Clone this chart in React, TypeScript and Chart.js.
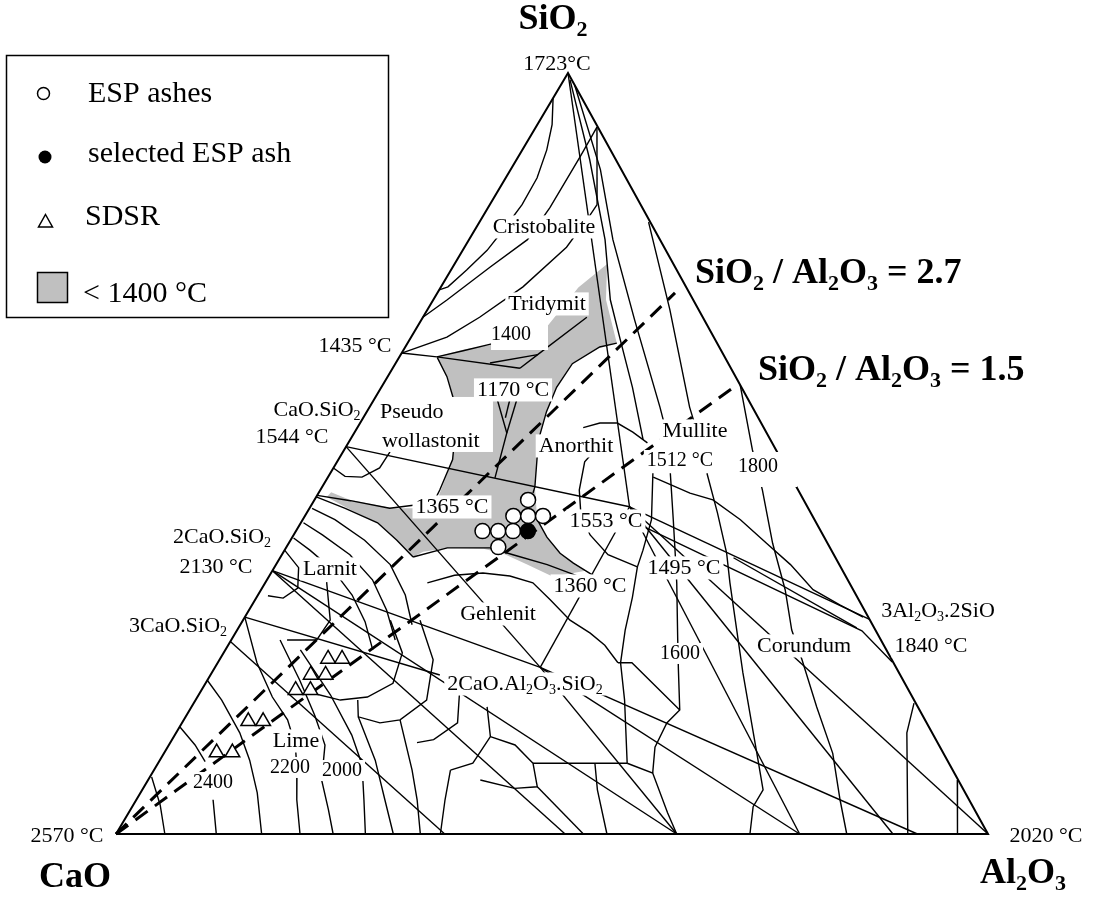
import React, { useEffect, useRef } from "react";
import { Chart, registerables } from "chart.js";

Chart.register(...registerables);

// Compositions are [SiO2 wt%, Al2O3 wt%]; CaO = 100 - SiO2 - Al2O3
type Comp = [number, number];

// ---------- data ----------
const triangleEdges: Comp[] = [[0, 0], [0, 100], [100, 0], [0, 0]];

const ratioLine27: Comp[] = [[0, 0], [71.1, 27.25]];
const ratioLine15: Comp[] = [[0, 0], [59.0, 40.6]];

const espAshes: Comp[] = [
  [43.9, 24.5], [41.8, 23.9], [41.8, 25.6], [41.8, 27.3],
  [39.8, 21.4], [39.8, 23.2], [39.8, 24.9], [37.7, 24.3],
];
const selectedAsh: Comp[] = [[39.8, 26.6]];
const sdsrSamples: Comp[] = [
  [23.0, 12.4], [23.0, 14.0], [20.9, 11.5], [20.9, 13.2], [18.9, 10.8],
  [18.9, 12.5], [14.8, 7.5], [14.8, 9.2], [10.7, 6.0], [10.7, 7.8],
];

const lowMeltRegion: Comp[] = [
  [62.7, 4.3], [63.7, 7.0], [64.3, 9.8], [65.6, 12.3], [66.9, 14.9], [71.8, 15.8],
  [74.9, 17.5], [70.2, 19.8], [64.5, 24.0], [64.0, 22.3], [61.8, 20.3], [58.7, 20.1],
  [55.5, 20.6], [51.8, 21.6], [45.6, 24.4], [41.3, 26.9], [39.0, 29.2], [36.9, 31.8],
  [35.6, 34.0], [34.6, 35.9], [33.8, 32.6], [35.4, 28.8], [36.9, 25.2], [37.5, 22.7],
  [37.6, 18.8], [37.1, 16.0], [36.4, 15.2], [38.6, 12.2], [40.9, 8.8], [42.6, 4.8],
  [44.3, 1.2], [44.9, 1.4], [43.9, 4.1], [42.8, 9.6], [42.8, 13.8], [44.3, 14.0],
  [49.2, 13.1], [53.1, 11.4], [57.0, 9.2], [59.9, 7.0],
];

const tieLines: Comp[][] = [
  [[100, 0], [43.0, 36.6]],
  [[50.9, 0], [43.0, 36.6]],
  [[50.9, 0], [21.9, 37.3]],
  [[34.6, 0], [21.9, 37.3]],
  [[21.9, 37.3], [43.0, 36.6]],
  [[43.0, 36.6], [28.2, 71.8]],
  [[43.0, 36.6], [0, 100]],
  [[43.0, 36.6], [0, 78.4]],
  [[43.0, 36.6], [0, 89.1]],
  [[34.6, 0], [0, 64.3]],
  [[21.9, 37.3], [0, 64.3]],
  [[21.9, 37.3], [0, 78.4]],
  [[21.9, 37.3], [0, 91.9]],
  [[25.3, 0], [0, 37.7]],
  [[28.5, 0], [20.9, 26.3]],
  [[34.6, 0], [0, 51.5]],
];

const silicaFieldCurves: Comp[][] = [
  [[96.7, 0], [93.2, 1.7], [89.9, 2.8], [86.2, 3.6], [82.7, 3.7], [79.6, 3.3], [76.7, 2.8], [74.1, 1.8], [71.9, 0.8], [71.5, 0]],
  [[67.9, 0], [70.2, 1.6], [74.5, 4.3], [78.1, 6.7], [82.3, 7.1], [89.0, 7.1], [92.9, 7.0]],
  [[63.2, 0], [65.3, 4.1], [67.9, 6.5], [71.9, 9.4], [77.1, 11.7], [81.3, 12.2], [82.7, 12.3]],
  [[92.9, 7.0], [82.7, 12.3]],
  [[99.1, 0.7], [88.6, 8.4], [78.1, 15.6], [70.2, 20.3], [64.9, 24.2], [58.7, 28.8], [51.8, 33.6]],
  [[98.4, 1.6], [87.3, 10.3], [78.1, 16.5], [67.5, 24.5], [56.1, 33.3], [51.8, 36.5]],
  [[80.4, 19.4], [68.9, 27.8], [56.1, 36.7], [53.8, 38.5]],
];

const phaseBoundaries: Comp[][] = [
  [[63.2, 0], [62.7, 4.3], [61.2, 14.6]],
  [[61.2, 14.6], [63.0, 15.7], [67.9, 18.8]],
  [[61.9, 10.8], [63.0, 15.7]],
  [[62.7, 4.3], [63.5, 6.9], [64.4, 9.7]],
  [[62.6, 4.4], [60.1, 6.8], [57.0, 9.2], [53.1, 11.4], [49.2, 13.1], [45.2, 13.7], [42.6, 13.9]],
  [[64.5, 24.0], [64.0, 22.3], [61.8, 20.3], [58.7, 20.1], [55.5, 20.6], [51.8, 21.6], [45.6, 24.4], [44.8, 24.6]],
  [[41.3, 26.9], [39.0, 29.2], [36.9, 31.8], [35.6, 34.0], [34.6, 35.9], [33.0, 39.0]],
  [[36.4, 15.2], [37.6, 18.5], [37.6, 23.4], [36.7, 26.5], [35.4, 31.1], [33.8, 35.7]],
  [[44.3, 0], [42.8, 4.1], [40.9, 8.8], [38.6, 12.2], [36.4, 15.2]],
  [[44.5, 0], [43.8, 4.2], [42.8, 9.2], [43.2, 11.7]],
  [[57.0, 14.2], [52.7, 17.5], [46.8, 19.2]],
  [[57.0, 16.4], [52.7, 17.5]],
  [[57.0, 15.6], [54.7, 16.3]],
  [[53.4, 25.9], [54.0, 27.5], [54.0, 29.5], [52.8, 31.9], [51.4, 34.3]],
  [[50.5, 28.8], [48.9, 28.4], [45.2, 29.7], [41.9, 31.6], [39.3, 34.0], [36.7, 37.4], [35.1, 41.6]],
  [[47.4, 37.0], [41.3, 40.0], [37.3, 41.1], [35.1, 41.6]],
  [[47.4, 39.0], [41.3, 42.5], [36.9, 45.0], [33.0, 47.2], [25.5, 51.2], [21.6, 53.3], [16.3, 56.2], [14.6, 55.6], [11.4, 55.9], [8.0, 57.4]],
  [[47.4, 43.2], [42.2, 47.1], [36.9, 50.9], [33.0, 53.3], [21.2, 60.9], [10.6, 68.0], [5.8, 71.2], [3.6, 71.2], [0, 72.7]],
  [[46.9, 37.3], [44.8, 42.6], [43.9, 45.7], [41.3, 50.2], [38.2, 54.8], [35.4, 59.0], [32.1, 63.3], [30.1, 67.4], [28.5, 70.9]],
  [[59.0, 41.0], [50.5, 46.8], [45.2, 50.7], [38.2, 55.5], [32.1, 60.1], [26.8, 63.6], [22.9, 66.8], [16.7, 71.7], [10.6, 76.7], [4.5, 80.7], [0, 83.8]],
  [[40.3, 39.8], [26.7, 71.7], [22.6, 77.3]],
  [[36.3, 52.0], [27.1, 70.9]],
  [[17.2, 82.6], [13.3, 83.8], [0, 90.8]],
  [[7.1, 92.8], [0, 96.5]],
  [[33.0, 18.6], [34.0, 21.2], [34.3, 24.3], [33.9, 27.6], [33.0, 30.7], [30.8, 33.8], [28.1, 37.5], [26.4, 40.7], [24.8, 43.2], [22.5, 45.9]],
  [[35.1, 41.6], [31.1, 43.1], [26.8, 44.5], [22.5, 46.2], [17.6, 49.2], [9.3, 53.8]],
  [[22.5, 45.9], [22.5, 47.5], [16.3, 56.2]],
  [[9.3, 43.0], [9.3, 53.8]],
  [[9.3, 53.8], [8.0, 57.4], [2.8, 61.8], [0, 64.3]],
  [[7.1, 38.1], [6.0, 42.6], [6.2, 45.1], [9.3, 43.0]],
  [[6.2, 45.1], [0, 53.6]],
  [[9.3, 50.1], [5.8, 52.2], [0, 56.3]],
  [[12.8, 36.3], [11.7, 39.7], [9.3, 43.0]],
];

const limeFieldCurves: Comp[][] = [
  [[42.8, 0.3], [41.3, 3.7], [38.6, 8.5], [35.4, 13.1], [31.4, 16.9], [27.5, 19.7]],
  [[40.9, 0.3], [39.3, 3.3], [36.7, 7.8], [33.4, 12.1], [29.4, 15.8], [25.5, 18.8]],
  [[38.9, 0.2], [37.3, 2.9], [34.7, 6.9], [31.4, 10.8], [27.9, 14.1], [24.2, 16.9]],
  [[48.1, 0], [47.0, 1.9], [46.9, 3.9], [48.1, 5.3], [50.2, 5.4]],
  [[37.3, 0], [35.0, 2.8], [32.3, 4.1], [31.0, 3.1], [31.3, 1.2]],
  [[33.1, 7.0], [28.1, 10.0], [25.5, 9.8], [25.5, 6.4]],
  [[28.1, 16.9], [23.8, 20.5], [19.8, 21.5], [18.0, 19.5], [17.6, 16.6], [18.5, 13.0]],
  [[28.1, 20.3], [22.9, 24.5], [17.6, 26.5], [15.0, 24.8], [14.6, 22.7], [15.4, 19.8], [17.6, 18.6]],
  [[18.5, 29.8], [14.6, 31.6], [12.4, 30.0], [12.0, 28.3]],
  [[16.7, 33.9], [12.8, 36.3], [9.3, 36.1], [8.4, 34.0]],
  [[7.5, 0.2], [3.8, 3.1], [0, 5.6]],
  [[14.1, 0], [11.7, 3.0], [9.5, 5.3]],
  [[4.5, 8.8], [0, 11.5]],
  [[20.2, 0], [17.6, 3.0], [13.3, 7.3], [9.7, 10.3], [5.4, 13.4], [0, 16.7]],
  [[28.5, 0], [22.5, 4.5], [18.0, 8.6], [15.0, 11.9], [11.7, 14.5], [8.4, 16.4], [4.5, 18.4], [0, 21.1]],
  [[25.5, 5.6], [20.2, 10.6], [15.6, 14.7], [11.7, 17.9], [7.1, 19.9], [3.2, 22.7], [0, 24.9]],
  [[24.2, 8.6], [18.3, 15.1], [13.0, 20.3], [9.1, 23.5], [4.5, 26.1], [0, 28.6]],
  [[15.4, 19.8], [9.7, 24.7], [4.5, 28.5], [0, 31.8]],
  [[15.0, 24.8], [8.4, 29.6], [4.5, 32.2], [0, 34.9]],
  [[8.4, 34.0], [4.5, 35.4], [0, 37.2]],
];

// Text annotations: anchor in axis units [x, y]
type Label = { t: string; at: [number, number]; size?: number; bold?: boolean; left?: boolean; box?: boolean };
const fieldLabels: Label[] = [
  { t: "Cristobalite", at: [49.08, 78.98], box: true },
  { t: "Tridymit", at: [49.43, 68.86], box: true },
  { t: "Anorthit", at: [52.75, 50.2], box: true },
  { t: "Mullite", at: [66.4, 52.17], box: true },
  { t: "Corundum", at: [78.9, 23.92], box: true },
  { t: "Gehlenit", at: [43.81, 28.12], box: true },
  { t: "Larnit", at: [24.54, 34.04], box: true },
  { t: "Lime", at: [20.64, 11.43], box: true },
  { t: "2CaO.Al_2O_3.SiO_2", at: [46.9, 18.92], box: true },
  { t: "3Al_2O_3.2SiO", at: [94.27, 28.52], box: true },
  { t: "Pseudo", at: [30.28, 54.67], left: true },
  { t: "wollastonit", at: [30.5, 50.86], left: true },
];
const temperatureLabels: Label[] = [
  { t: "1723°C", at: [50.57, 100.4] },
  { t: "1435 °C", at: [27.41, 63.34] },
  { t: "1544 °C", at: [20.18, 51.38] },
  { t: "2130 °C", at: [11.47, 34.3] },
  { t: "2570 °C", at: [-5.62, -1.05] },
  { t: "2020 °C", at: [106.65, -1.05] },
  { t: "1840 °C", at: [93.46, 23.92], box: true },
  { t: "1170 °C", at: [45.53, 57.56], box: true },
  { t: "1400", at: [45.3, 64.92], size: 20 },
  { t: "1365 °C", at: [38.53, 42.18], box: true },
  { t: "1553 °C", at: [56.19, 40.34], box: true },
  { t: "1360 °C", at: [54.36, 31.8], box: true },
  { t: "1495 °C", at: [65.14, 34.17], box: true },
  { t: "1512 °C", at: [64.68, 48.36], size: 20, box: true },
  { t: "1800", at: [73.62, 47.57], size: 20 },
  { t: "1600", at: [64.68, 23.0], size: 20, box: true },
  { t: "2400", at: [11.12, 6.04], size: 20, box: true },
  { t: "2200", at: [19.95, 8.02], size: 20, box: true },
  { t: "2000", at: [25.92, 7.62], size: 20, box: true },
];
const compoundLabels: Label[] = [
  { t: "CaO.SiO_2", at: [23.05, 54.93] },
  { t: "2CaO.SiO_2", at: [12.16, 38.24] },
  { t: "3CaO.SiO_2", at: [7.11, 26.54] },
];
const titleLabels: Label[] = [
  { t: "SiO_2", at: [50.12, 105.79], size: 36, bold: true },
  { t: "CaO", at: [-4.7, -6.96], size: 36, bold: true },
  { t: "Al_2O_3", at: [104.01, -6.44], size: 36, bold: true },
  { t: "SiO_2 / Al_2O_3 = 2.7", at: [66.4, 72.41], size: 36, bold: true, left: true },
  { t: "SiO_2 / Al_2O_3 = 1.5", at: [73.62, 59.66], size: 36, bold: true, left: true },
];
// white masks behind multi-line / edge-covering labels: [x0, y0, x1, y1] in axis units
const labelMasks: [number, number, number, number][] = [
  [30.05, 50.2, 43.23, 57.43],
  [70.76, 45.6, 78.1, 50.2],
  [43.01, 63.6, 49.54, 67.54],
];

const legendItems = ["ESP ashes", "selected ESP ash", "SDSR", "< 1400 °C"];

// ---------- helpers ----------
const K = 4.52 / 8.72;
const toXY = ([si, al]: Comp) => ({ x: al + si * K, y: si });
const X_MIN = -13.303, X_MAX = 112.156, Y_MIN = -8.541, Y_MAX = 109.593;
const FONT = '"Liberation Serif", "Times New Roman", serif';

function segs(text: string) {
  const out: { s: string; sub: boolean }[] = [];
  for (let i = 0; i < text.length; i++) {
    if (text[i] === "_" && i + 1 < text.length) {
      out.push({ s: text[i + 1], sub: true });
      i++;
    } else {
      const last = out[out.length - 1];
      if (last && !last.sub) last.s += text[i];
      else out.push({ s: text[i], sub: false });
    }
  }
  return out;
}

function richWidth(ctx: CanvasRenderingContext2D, text: string, size: number, bold: boolean) {
  let w = 0;
  for (const sg of segs(text)) {
    ctx.font = `${bold ? "bold " : ""}${sg.sub ? Math.round(size * 0.62) : size}px ${FONT}`;
    w += ctx.measureText(sg.s).width;
  }
  return w;
}

function drawRich(ctx: CanvasRenderingContext2D, text: string, x: number, y: number, size: number, bold: boolean) {
  let cx = x;
  ctx.textBaseline = "alphabetic";
  ctx.textAlign = "left";
  for (const sg of segs(text)) {
    ctx.font = `${bold ? "bold " : ""}${sg.sub ? Math.round(size * 0.62) : size}px ${FONT}`;
    ctx.fillText(sg.s, cx, sg.sub ? y + size * 0.2 : y);
    cx += ctx.measureText(sg.s).width;
  }
}

function drawAnnotations(chart: any) {
  const ctx: CanvasRenderingContext2D = chart.ctx;
  const xs = chart.scales.x, ys = chart.scales.y;
  ctx.save();
  ctx.fillStyle = "#fff";
  for (const m of labelMasks) {
    const x0 = xs.getPixelForValue(m[0]), x1 = xs.getPixelForValue(m[2]);
    const y0 = ys.getPixelForValue(m[1]), y1 = ys.getPixelForValue(m[3]);
    ctx.fillRect(x0, y1, x1 - x0, y0 - y1);
  }
  const all = [...fieldLabels, ...temperatureLabels, ...compoundLabels, ...titleLabels];
  const placed = all.map((l) => {
    const size = l.size ?? 22;
    const bold = !!l.bold;
    const w = richWidth(ctx, l.t, size, bold);
    const px = xs.getPixelForValue(l.at[0]);
    const py = ys.getPixelForValue(l.at[1]);
    const x = l.left ? px : px - w / 2;
    return { l, size, bold, w, x, y: py };
  });
  ctx.fillStyle = "#fff";
  for (const p of placed) {
    if (!p.l.box) continue;
    ctx.fillRect(p.x - 3, p.y - p.size * 0.8, p.w + 6, p.size * 1.05);
  }
  ctx.fillStyle = "#000";
  for (const p of placed) drawRich(ctx, p.l.t, p.x, p.y, p.size, p.bold);
  ctx.restore();
}

function drawLegend(chart: any) {
  const ctx: CanvasRenderingContext2D = chart.ctx;
  ctx.save();
  ctx.strokeStyle = "#000";
  ctx.lineWidth = 1.5;
  ctx.strokeRect(6.5, 55.5, 382, 262);
  ctx.beginPath();
  ctx.arc(43.5, 93.5, 6, 0, Math.PI * 2);
  ctx.fillStyle = "#fff";
  ctx.fill();
  ctx.stroke();
  ctx.beginPath();
  ctx.arc(45, 157, 6.5, 0, Math.PI * 2);
  ctx.fillStyle = "#000";
  ctx.fill();
  ctx.beginPath();
  ctx.moveTo(45.5, 214.5);
  ctx.lineTo(52.5, 227);
  ctx.lineTo(38.5, 227);
  ctx.closePath();
  ctx.fillStyle = "#fff";
  ctx.fill();
  ctx.stroke();
  ctx.fillStyle = "#c0c0c0";
  ctx.fillRect(37.5, 272.5, 30, 30);
  ctx.strokeRect(37.5, 272.5, 30, 30);
  ctx.fillStyle = "#000";
  ctx.font = `30px ${FONT}`;
  ctx.textBaseline = "alphabetic";
  ctx.textAlign = "left";
  ctx.fillText(legendItems[0], 88, 102);
  ctx.fillText(legendItems[1], 88, 162);
  ctx.fillText(legendItems[2], 85, 225);
  ctx.fillText(legendItems[3], 83, 302);
  ctx.restore();
}

const annotationPlugin = {
  id: "phaseAnnotations",
  beforeDatasetDraw(chart: any, args: any) {
    if (args.index === 2) drawAnnotations(chart);
  },
  afterDraw(chart: any) {
    drawLegend(chart);
  },
};

export default function App() {
  const ref = useRef<HTMLCanvasElement>(null);
  useEffect(() => {
    const canvas = ref.current;
    if (!canvas) return;
    const lineSet = (polys: Comp[][], width: number, dash?: number[]) =>
      polys.map((p) => ({
        data: p.map(toXY),
        showLine: true,
        pointRadius: 0,
        borderColor: "#000",
        backgroundColor: "#000",
        borderWidth: width,
        borderDash: dash ?? [],
        fill: false,
        clip: false as any,
      }));
    const datasets: any[] = [
      {
        label: "selected ESP ash",
        data: selectedAsh.map(toXY),
        pointRadius: 7.5,
        pointBackgroundColor: "#000",
        pointBorderColor: "#000",
        pointBorderWidth: 1.5,
        showLine: false,
      },
      {
        label: "ESP ashes",
        data: espAshes.map(toXY),
        pointRadius: 7.5,
        pointBackgroundColor: "#fff",
        pointBorderColor: "#000",
        pointBorderWidth: 1.5,
        showLine: false,
      },
      {
        label: "SDSR",
        data: sdsrSamples.map(toXY),
        pointStyle: "triangle",
        pointRadius: 8.5,
        pointBackgroundColor: "#fff",
        pointBorderColor: "#000",
        pointBorderWidth: 1.5,
        showLine: false,
      },
      ...lineSet([ratioLine27, ratioLine15], 3, [15, 9]),
      ...lineSet([triangleEdges], 2),
      ...lineSet(tieLines, 1.4),
      ...lineSet(silicaFieldCurves, 1.4),
      ...lineSet(phaseBoundaries, 1.4),
      ...lineSet(limeFieldCurves, 1.4),
      {
        label: "< 1400 °C",
        data: lowMeltRegion.map(toXY),
        showLine: true,
        fill: "shape",
        backgroundColor: "#c0c0c0",
        borderColor: "rgba(0,0,0,0)",
        borderWidth: 0,
        pointRadius: 0,
      },
    ];
    const chart = new Chart(canvas, {
      type: "scatter",
      data: { datasets },
      options: {
        responsive: false,
        animation: false,
        devicePixelRatio: 1,
        events: [],
        layout: { padding: 0, autoPadding: false },
        plugins: { legend: { display: false }, tooltip: { enabled: false } },
        scales: {
          x: { type: "linear", min: X_MIN, max: X_MAX, display: false, bounds: "data" },
          y: { type: "linear", min: Y_MIN, max: Y_MAX, display: false, bounds: "data" },
        },
      } as any,
      plugins: [annotationPlugin as any],
    });
    return () => chart.destroy();
  }, []);
  return (
    <div style={{ position: "absolute", left: 0, top: 0, width: 1094, height: 899, background: "#fff" }}>
      <canvas ref={ref} width={1094} height={899} style={{ display: "block" }} />
    </div>
  );
}
